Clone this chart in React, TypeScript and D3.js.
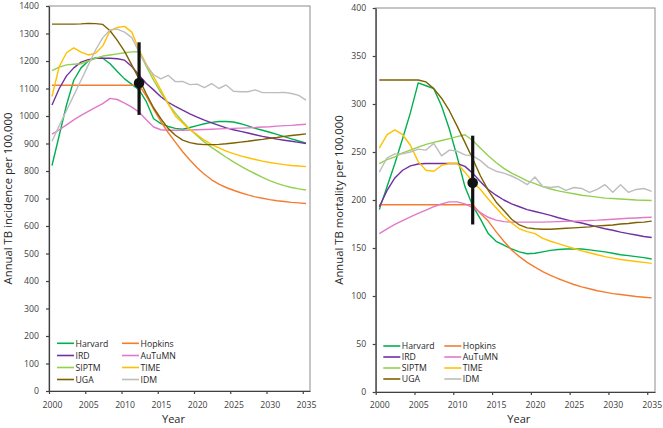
import { useEffect, useRef } from 'react'
import * as d3 from 'd3'

const years = d3.range(2000, 2036)
const models = ['Harvard', 'Hopkins', 'IRD', 'AuTuMN', 'SIPTM', 'TIME', 'UGA', 'IDM']
const colors = ['#00b050', '#f47c30', '#7030a0', '#e07ac8', '#92d050', '#ffc000', '#7f6000', '#bdbdbd']

// incidence per 100,000
const harvardInc = [820, 930, 1040, 1130, 1175, 1200, 1211, 1210, 1190, 1162, 1135, 1115, 1095, 1052, 990, 972, 962, 955, 952, 958, 965, 972, 977, 980, 980, 978, 972, 964, 955, 948, 941, 933, 925, 917, 909, 901]
const hopkinsInc = [1112, 1112, 1112, 1112, 1112, 1112, 1112, 1112, 1112, 1112, 1112, 1112, 1112, 1072, 1025, 980, 940, 905, 870, 840, 812, 788, 768, 752, 740, 730, 721, 713, 706, 701, 696, 692, 689, 686, 684, 682]
const irdInc = [1040, 1100, 1146, 1175, 1196, 1205, 1210, 1210, 1210, 1208, 1203, 1180, 1148, 1118, 1095, 1070, 1050, 1035, 1021, 1008, 996, 985, 975, 966, 957, 950, 944, 938, 932, 926, 921, 916, 912, 908, 904, 900]
const autumnInc = [934, 950, 968, 986, 1002, 1017, 1031, 1045, 1064, 1060, 1047, 1032, 1014, 986, 960, 950, 948, 948, 948, 949, 950, 951, 952, 953, 954, 955, 956, 957, 958, 960, 961, 963, 965, 966, 968, 970]
const siptmInc = [1165, 1178, 1186, 1188, 1190, 1200, 1210, 1218, 1222, 1226, 1230, 1233, 1234, 1180, 1130, 1085, 1045, 1010, 980, 952, 928, 905, 886, 868, 850, 833, 818, 803, 790, 777, 765, 755, 747, 740, 735, 731]
const timeInc = [1071, 1180, 1230, 1248, 1232, 1222, 1228, 1255, 1310, 1322, 1326, 1305, 1240, 1188, 1143, 1095, 1045, 1000, 975, 950, 932, 912, 896, 884, 872, 863, 855, 848, 842, 836, 831, 827, 823, 820, 818, 816]
const ugaInc = [1334, 1334, 1334, 1334, 1335, 1337, 1336, 1333, 1310, 1275, 1235, 1185, 1135, 1080, 1030, 990, 955, 930, 912, 903, 898, 896, 896, 897, 899, 902, 905, 908, 912, 915, 919, 922, 926, 929, 932, 935]
const idmInc = [908, 965, 1020, 1075, 1130, 1185, 1240, 1285, 1313, 1316, 1305, 1285, 1232, 1185, 1150, 1135, 1148, 1125, 1126, 1114, 1116, 1103, 1118, 1100, 1113, 1090, 1088, 1088, 1095, 1085, 1085, 1085, 1086, 1082, 1075, 1058]

// mortality per 100,000
const harvardMort = [190, 214, 238, 264, 291, 322, 319, 316, 298, 274, 245, 214, 194, 180, 165, 157, 153, 149, 146, 144, 144.5, 146, 147.5, 148.5, 149, 149, 149, 148, 147, 146, 144.5, 143, 142, 141, 140, 138.5]
const hopkinsMort = [195, 195, 195, 195, 195, 195, 195, 195, 195, 195, 195, 195, 195, 186, 178, 167, 157, 148, 141, 135, 130, 125.5, 121.5, 118, 115, 112, 109.5, 107.5, 105.5, 104, 102.5, 101.5, 100.5, 99.5, 98.7, 98]
const irdMort = [193, 210, 223, 231, 235.5, 237.5, 238, 238, 238, 238, 238, 235, 228, 219, 211, 205, 200, 196, 193, 190, 188, 186, 184, 181.5, 179.5, 177.5, 176, 174, 172, 170, 168.5, 166.5, 165, 163.5, 162, 161]
const autumnMort = [165, 170, 174.5, 178.5, 182.5, 186, 189.5, 193, 196, 198, 198, 196, 192, 187, 182, 179, 177.5, 177, 177, 177, 177, 177, 177.2, 177.5, 177.8, 178, 178.3, 178.7, 179, 179.5, 180, 180.5, 181, 181.3, 181.7, 182]
const siptmMort = [238, 242, 245, 249, 252, 255, 258, 260, 262, 264, 266, 268, 262, 254, 246, 239, 233, 228, 224, 220, 217, 214, 211.5, 209.5, 208, 206.5, 205, 204, 203, 202, 201.5, 201, 200.5, 200, 199.8, 199.5]
const timeMort = [254, 268, 273, 268, 257, 240, 231, 230, 236, 238, 238, 229, 219, 211, 201, 192, 183, 176, 170, 167, 165, 160, 157, 154.5, 152, 149.5, 147, 145, 143, 141, 139.5, 138, 137, 136, 135, 134]
const ugaMort = [325, 325, 325, 325, 325, 325, 323, 316, 306, 293, 277, 260, 243, 225, 210, 198, 189, 180, 174, 171, 170, 169.5, 169.5, 170, 170.5, 171, 171.5, 172, 173, 173.5, 174, 175, 175.5, 176.5, 177, 178]
const idmMort = [229, 244, 248, 248, 250, 253, 252, 259, 246, 252, 251, 247, 246, 241, 234, 230, 228, 225, 221, 216, 224, 214, 213, 214, 210, 213, 212, 208, 211, 216, 208, 216, 208, 211, 212, 209]

// observed estimate (year, point, low, high)
const incEstimate = [2012, 1120, 1004, 1268]
const mortEstimate = [2012, 218, 174.5, 267]

const incSeries = [harvardInc, hopkinsInc, irdInc, autumnInc, siptmInc, timeInc, ugaInc, idmInc]
const mortSeries = [harvardMort, hopkinsMort, irdMort, autumnMort, siptmMort, timeMort, ugaMort, idmMort]

const FONT = '"Open Sans", sans-serif'

type Panel = {
  series: number[][]
  estimate: number[]
  yMax: number
  yStep: number
  title: string
  box: { x0: number; x1: number; y0: number; y1: number }
  dataX: [number, number]
  yPad: number
  xPad: number
  titleX: number
  yearX: number
  legend: { c1: number; c2: number; rows: number[] }
}

const panels: Panel[] = [
  {
    series: incSeries,
    estimate: incEstimate,
    yMax: 1400,
    yStep: 100,
    title: 'Annual TB incidence per 100,000',
    box: { x0: 49, x1: 310, y0: 6, y1: 391 },
    dataX: [52, 306],
    yPad: 7,
    xPad: 10.8,
    titleX: 11.8,
    yearX: 173.5,
    legend: { c1: 57, c2: 122, rows: [343.3, 355.5, 367.5, 379.5] },
  },
  {
    series: mortSeries,
    estimate: mortEstimate,
    yMax: 400,
    yStep: 50,
    title: 'Annual TB mortality per 100,000',
    box: { x0: 375.7, x1: 655, y0: 8, y1: 392 },
    dataX: [379.3, 651.7],
    yPad: 6.5,
    xPad: 9.8,
    titleX: 342.8,
    yearX: 518.8,
    legend: { c1: 383.3, c2: 444.3, rows: [346, 357, 368, 379] },
  },
]

export default function App() {
  const rootRef = useRef<SVGSVGElement>(null)

  useEffect(() => {
    const svg = d3.select(rootRef.current)
    svg.selectAll('*').remove()

    panels.forEach((p) => {
      const { x0, x1, y0, y1 } = p.box
      const g = svg.append('g')

      const x = d3.scaleLinear().domain([2000, 2035]).range(p.dataX)
      const xTicks = d3.scaleLinear().domain([2000, 2036]).range([x0, x1])
      const y = d3.scaleLinear().domain([0, p.yMax]).range([y1, y0])

      // plot area frame
      g.append('rect')
        .attr('x', x0)
        .attr('y', y0)
        .attr('width', x1 - x0)
        .attr('height', y1 - y0)
        .attr('fill', 'none')
        .attr('stroke', '#8c8c8c')
        .attr('stroke-width', 1)

      // y axis
      const yAxis = g
        .append('g')
        .attr('transform', `translate(${x0},0)`)
        .call(
          d3
            .axisLeft(y)
            .tickValues(d3.range(0, p.yMax + 1, p.yStep))
            .tickSize(3)
            .tickSizeOuter(0)
            .tickPadding(p.yPad)
            .tickFormat(d3.format('d'))
        )

      // x axis: tick marks and labels sit slightly apart, as in the original
      const xAxisTicks = g
        .append('g')
        .attr('transform', `translate(0,${y1})`)
        .call(
          d3
            .axisBottom(xTicks)
            .tickValues(d3.range(2000, 2036, 5))
            .tickSize(3)
            .tickSizeOuter(0)
            .tickFormat(() => '')
        )
      const xAxisLabels = g
        .append('g')
        .attr('transform', `translate(0,${y1})`)
        .call(
          d3
            .axisBottom(x)
            .tickValues(d3.range(2000, 2036, 5))
            .tickSize(0)
            .tickPadding(p.xPad)
            .tickFormat(d3.format('d'))
        )
      xAxisLabels.select('.domain').remove()

      ;[yAxis, xAxisTicks, xAxisLabels].forEach((a) => {
        a.selectAll('path, line').attr('stroke', '#404040').attr('stroke-width', 1.2)
        a.selectAll('text').attr('font-family', FONT).attr('font-size', 8.7).attr('fill', '#404040')
      })

      // model lines
      const line = d3
        .line<number>()
        .x((_, i) => x(years[i]))
        .y((d) => y(d))

      p.series.forEach((s, i) => {
        g.append('path')
          .datum(s)
          .attr('fill', 'none')
          .attr('stroke', colors[i])
          .attr('stroke-width', 1.4)
          .attr('stroke-linejoin', 'round')
          .attr('d', line)
      })

      // estimate with error bar
      const [ey, ev, elo, ehi] = p.estimate
      g.append('line')
        .attr('x1', x(ey))
        .attr('x2', x(ey))
        .attr('y1', y(elo))
        .attr('y2', y(ehi))
        .attr('stroke', '#111')
        .attr('stroke-width', 3.2)
      g.append('circle').attr('cx', x(ey)).attr('cy', y(ev)).attr('r', 5.3).attr('fill', '#111')

      // axis titles
      g.append('text')
        .attr('transform', `translate(${p.titleX},${(y0 + y1) / 2}) rotate(-90)`)
        .attr('text-anchor', 'middle')
        .attr('font-family', FONT)
        .attr('font-size', 11.3)
        .attr('fill', '#262626')
        .text(p.title)
      g.append('text')
        .attr('x', p.yearX)
        .attr('y', 423)
        .attr('text-anchor', 'middle')
        .attr('font-family', FONT)
        .attr('font-size', 11)
        .attr('fill', '#262626')
        .text('Year')

      // legend, two columns
      models.forEach((m, i) => {
        const lx = i % 2 === 0 ? p.legend.c1 : p.legend.c2
        const ly = p.legend.rows[Math.floor(i / 2)]
        g.append('line')
          .attr('x1', lx)
          .attr('x2', lx + 17)
          .attr('y1', ly)
          .attr('y2', ly)
          .attr('stroke', colors[i])
          .attr('stroke-width', 1.6)
        g.append('text')
          .attr('x', lx + 18.5)
          .attr('y', ly + 3.2)
          .attr('font-family', FONT)
          .attr('font-size', 8.7)
          .attr('fill', '#262626')
          .text(m)
      })
    })
  }, [])

  return (
    <svg
      ref={rootRef}
      width={663}
      height={428}
      style={{ position: 'absolute', left: 0, top: 0, background: '#fff' }}
    ></svg>
  )
}
